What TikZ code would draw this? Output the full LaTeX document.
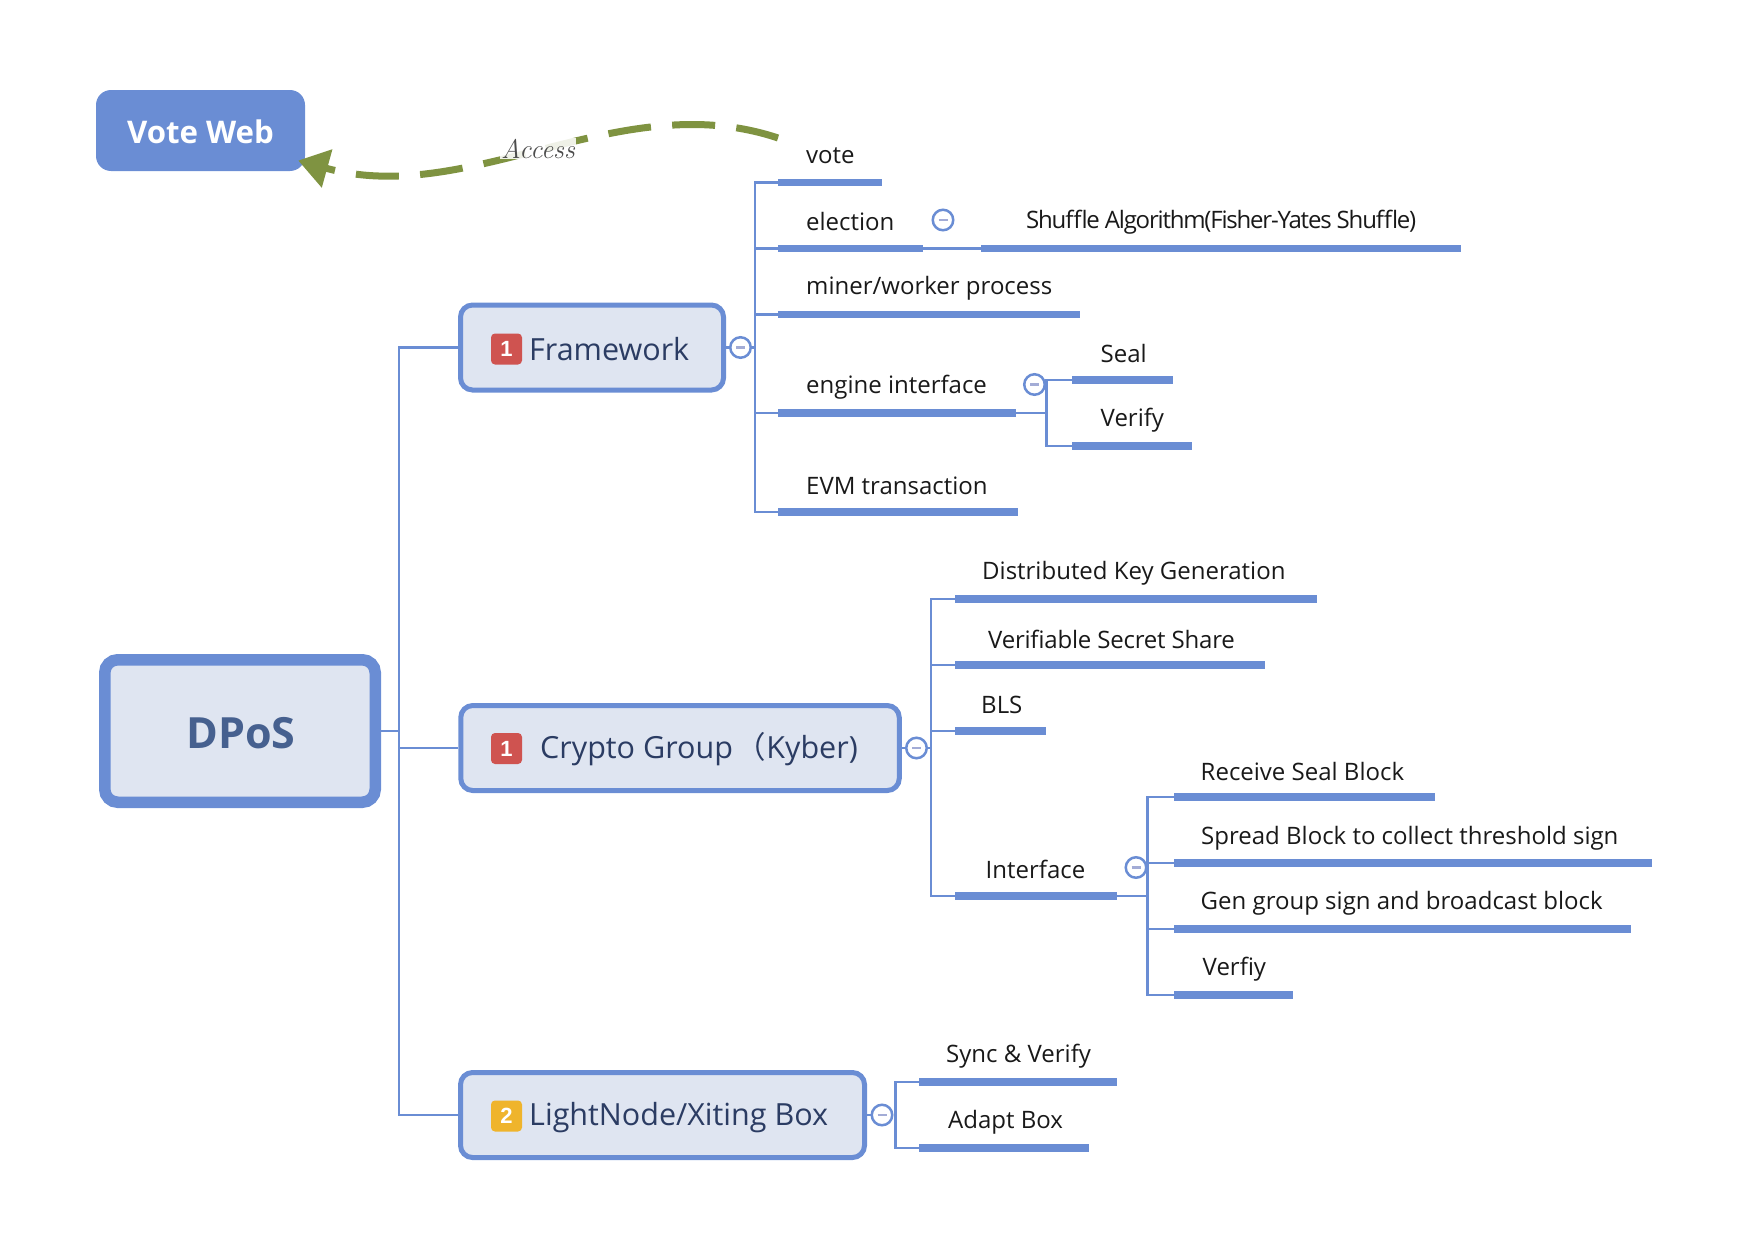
\documentclass[tikz,border=0pt]{standalone}
\usepackage{xcolor}
\usepackage{fontspec}
\usetikzlibrary{arrows.meta}
\newfontfamily\opensans{Open Sans}
\newfontfamily\badgefont{Liberation Sans}
\newfontfamily\cjk{Noto Sans CJK SC}
\definecolor{mapblue}{HTML}{6A8DD4}
\definecolor{mapfill}{HTML}{DFE5F1}
\definecolor{mapink}{HTML}{2B3C63}
\definecolor{rootink}{HTML}{46608F}
\definecolor{mapolive}{HTML}{7F9341}
\definecolor{minusink}{HTML}{A3ACD6}
\definecolor{badgered}{HTML}{CF5350}
\definecolor{badgeyellow}{HTML}{EFB42C}
\begin{document}
\begin{tikzpicture}[x=1pt,y=-1pt]
        \tikzstyle{every node}+=[inner sep=0pt]
        \tikzstyle{rootbox}=[draw=mapblue,fill=mapfill,line width=11.5pt,rounded corners=13pt,minimum width=270.5pt,minimum height=142.5pt]
        \tikzstyle{topicbox}=[draw=mapblue,fill=mapfill,line width=5pt,rounded corners=12pt,minimum height=85pt]
        \tikzstyle{floatbox}=[fill=mapblue,rounded corners=15pt,minimum width=209pt,minimum height=81pt]
        \tikzstyle{toggle}=[draw=mapblue,fill=white,line width=2.5pt,circle,minimum size=20.5pt]
        \tikzstyle{badge}=[rounded corners=4pt,minimum width=31pt,minimum height=31pt,text=white,font=\badgefont\bfseries\fontsize{22}{22}\selectfont]
        \tikzstyle{bar}=[fill=mapblue,minimum height=7.5pt]
        \tikzstyle{leaf}=[anchor=base west,text=black!90,font=\opensans\fontsize{24}{29}\selectfont]
        \tikzstyle{topic}=[anchor=base west,text=mapink,font=\opensans\fontsize{30.5}{36}\selectfont]
        \tikzstyle{branch}=[draw=mapblue,line width=2.4pt]
        \tikzstyle{relation}=[draw=mapolive,line width=7pt,dash pattern=on 43pt off 21.3pt,-{Triangle[length=30pt,width=38pt,fill=mapolive]}]
        \useasboundingbox (0,0) rectangle (1754,1239);
        % boxes
        \node [rootbox] (dpos) at (240,731) {};
        \node [anchor=base,text=rootink,font=\opensans\bfseries\fontsize{43}{50}\selectfont] (dposlabel) at (241,748) {DPoS};
        \node [floatbox] (voteweb) at (200.5,130.5) {};
        \node [anchor=base,text=white,font=\opensans\bfseries\fontsize{31.2}{37}\selectfont] (votelabel) at (200.5,143) {Vote Web};
        \node [topicbox,minimum width=263pt] (framework) at (592,347.5) {};
        \node [badge,fill=badgered] (fbadge) at (506.5,349) {1};
        \node [topic] (flabel) at (529,360) {Framework};
        \node [topicbox,minimum width=438.5pt] (crypto) at (680,748) {};
        \node [badge,fill=badgered] (cbadge) at (506.5,748.5) {1};
        \node [topic] (clabel) at (540,758) {Crypto Group\hspace{3pt}{\cjk（}Kyber)};
        \node [topicbox,minimum width=404pt] (lightnode) at (662.5,1115) {};
        \node [badge,fill=badgeyellow] (lbadge) at (506.5,1116) {2};
        \node [topic] (llabel) at (529,1125) {LightNode/Xiting Box};
        % bars under the leaves
        \node [bar,minimum width=104pt] (vote) at (830,182.5) {};
        \node [bar,minimum width=145pt] (election) at (850.5,248.5) {};
        \node [bar,minimum width=480pt] (shuffle) at (1221,248.5) {};
        \node [bar,minimum width=302pt] (miner) at (929,314.5) {};
        \node [bar,minimum width=238pt] (engine) at (897,413) {};
        \node [bar,minimum width=101pt] (seal) at (1122.5,380) {};
        \node [bar,minimum width=120pt] (verify) at (1132,446) {};
        \node [bar,minimum width=240pt] (evm) at (898,512) {};
        \node [bar,minimum width=362pt] (dkg) at (1136,599) {};
        \node [bar,minimum width=310pt] (vss) at (1110,665) {};
        \node [bar,minimum width=91pt] (bls) at (1000.5,731) {};
        \node [bar,minimum width=162pt] (interface) at (1036,896) {};
        \node [bar,minimum width=261pt] (receive) at (1304.5,797) {};
        \node [bar,minimum width=477.5pt] (spread) at (1412.75,863) {};
        \node [bar,minimum width=456.5pt] (gen) at (1402.25,929) {};
        \node [bar,minimum width=119pt] (verfiy) at (1233.5,995) {};
        \node [bar,minimum width=198pt] (sync) at (1018,1082) {};
        \node [bar,minimum width=170pt] (adapt) at (1004,1148) {};
        % leaf texts
        \node [leaf] (votetext) at (806,163) {vote};
        \node [leaf] (electiontext) at (806,230) {election};
        \node [leaf] (shuffletext) at (1026,228) {\addfontfeature{LetterSpace=-5}Shuffle Algorithm(Fisher-Yates Shuffle)};
        \node [leaf] (minertext) at (806,294) {miner/worker process};
        \node [leaf] (enginetext) at (806,393) {engine interface};
        \node [leaf] (sealtext) at (1100.5,362) {Seal};
        \node [leaf] (verifytext) at (1100.5,426) {Verify};
        \node [leaf] (evmtext) at (806,494) {EVM transaction};
        \node [leaf] (dkgtext) at (982,579) {Distributed Key Generation};
        \node [leaf] (vsstext) at (988,648) {\addfontfeature{LetterSpace=-0.9}Verifiable Secret Share};
        \node [leaf] (blstext) at (981,713) {BLS};
        \node [leaf] (interfacetext) at (985.5,878) {Interface};
        \node [leaf] (receivetext) at (1200.5,780) {Receive Seal Block};
        \node [leaf] (spreadtext) at (1201,844) {Spread Block to collect threshold sign};
        \node [leaf] (gentext) at (1200.5,909) {Gen group sign and broadcast block};
        \node [leaf] (verfiytext) at (1202.5,975) {Verfiy};
        \node [leaf] (synctext) at (946,1062) {Sync \& Verify};
        \node [leaf] (adapttext) at (948,1128) {Adapt Box};
        % collapse marks
        \node [toggle] (fminus) at (740.5,347.5) {\textcolor{minusink}{\rule{9pt}{2.5pt}}};
        \node [toggle] (cminus) at (916.5,748) {\textcolor{minusink}{\rule{9pt}{2.5pt}}};
        \node [toggle] (lminus) at (882,1115) {\textcolor{minusink}{\rule{9pt}{2.5pt}}};
        \node [toggle] (eminus) at (943,220) {\textcolor{minusink}{\rule{9pt}{2.5pt}}};
        \node [toggle] (gminus) at (1034.5,384.5) {\textcolor{minusink}{\rule{9pt}{2.5pt}}};
        \node [toggle] (iminus) at (1136,867.5) {\textcolor{minusink}{\rule{9pt}{2.5pt}}};
        % connectors
        \coordinate (stem) at (399,731);
        \coordinate (ftrunk) at (755,347.5);
        \coordinate (ctrunk) at (931,748);
        \coordinate (ltrunk) at (895.5,1115);
        \coordinate (gtrunk) at (1046.5,384.5);
        \coordinate (itrunk) at (1147.5,867.5);
        \draw [branch] (dpos.east) -- (stem);
        \draw [branch] (stem) |- (framework.west);
        \draw [branch] (stem) |- (crypto.west);
        \draw [branch] (stem) |- (lightnode.west);
        \draw [branch] (framework.east) -- (fminus.west);
        \draw [branch] (fminus.east) -- (ftrunk);
        \draw [branch] (crypto.east) -- (cminus.west);
        \draw [branch] (cminus.east) -- (ctrunk);
        \draw [branch] (lightnode.east) -- (lminus.west);
        \draw [branch] (lminus.east) -- (ltrunk);
        \draw [branch] (ftrunk) |- (vote.west);
        \draw [branch] (ftrunk) |- (election.west);
        \draw [branch] (ftrunk) |- (miner.west);
        \draw [branch] (ftrunk) |- (engine.west);
        \draw [branch] (ftrunk) |- (evm.west);
        \draw [branch] (election.east) -- (shuffle.west);
        \draw [branch] (engine.east) -| (gtrunk);
        \draw [branch] (gtrunk) |- (seal.west);
        \draw [branch] (gtrunk) |- (verify.west);
        \draw [branch] (ctrunk) |- (dkg.west);
        \draw [branch] (ctrunk) |- (vss.west);
        \draw [branch] (ctrunk) |- (bls.west);
        \draw [branch] (ctrunk) |- (interface.west);
        \draw [branch] (interface.east) -| (itrunk);
        \draw [branch] (itrunk) |- (receive.west);
        \draw [branch] (itrunk) |- (spread.west);
        \draw [branch] (itrunk) |- (gen.west);
        \draw [branch] (itrunk) |- (verfiy.west);
        \draw [branch] (ltrunk) |- (sync.west);
        \draw [branch] (ltrunk) |- (adapt.west);
        % relation
        \coordinate (accessstart) at (778,138);
        \draw [relation] (accessstart) .. controls (620,85) and (470,208) .. ([xshift=-7pt]voteweb.-16);
        \node [fill=white,fill opacity=0.88,text opacity=1,text=black!70,font=\itshape\fontsize{27}{32}\selectfont,anchor=base,inner sep=1pt] (accesslabel) at (538,158) {Access};
\end{tikzpicture}
\end{document}
